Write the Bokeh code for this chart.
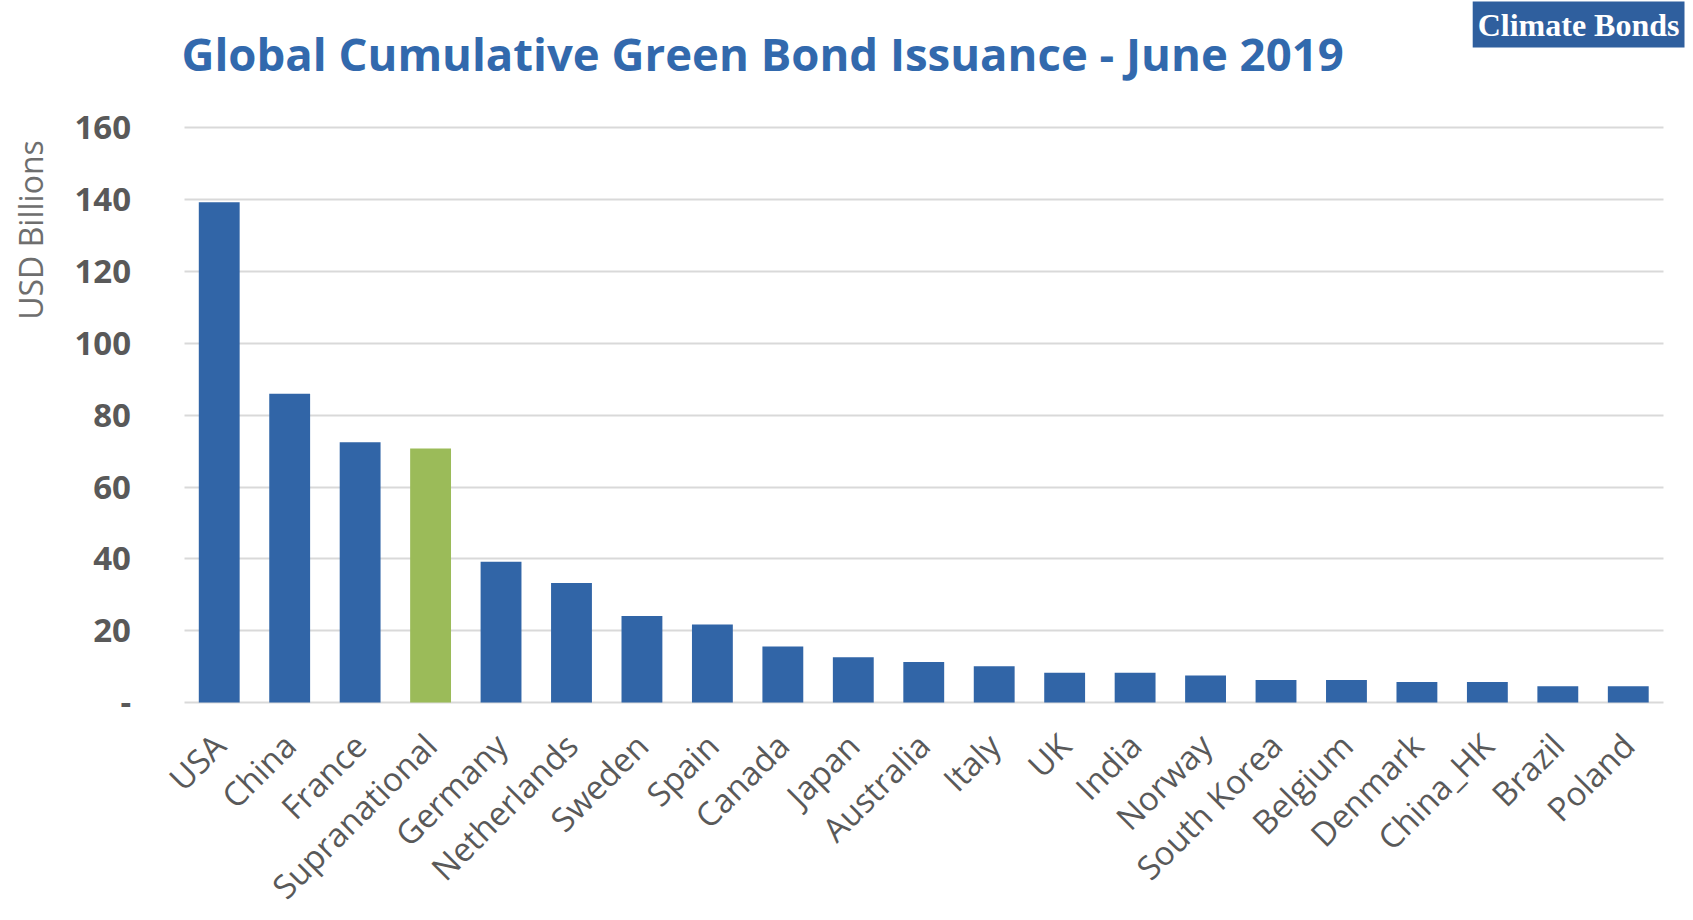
import math
from bokeh.plotting import figure
from bokeh.models import Range1d, FixedTicker, Label, ColumnDataSource
from bokeh.embed import file_html
from bokeh.resources import INLINE

# ---- data ----
countries = ["USA", "China", "France", "Supranational", "Germany", "Netherlands",
             "Sweden", "Spain", "Canada", "Japan", "Australia", "Italy", "UK",
             "India", "Norway", "South Korea", "Belgium", "Denmark", "China_HK",
             "Brazil", "Poland"]
issuance = [139.3, 86.0, 72.5, 70.7, 39.2, 33.3, 24.1, 21.7, 15.6, 12.6, 11.3,
            10.1, 8.3, 8.3, 7.5, 6.3, 6.3, 5.7, 5.7, 4.5, 4.5]
highlight = "Supranational"
y_ticks = [0, 20, 40, 60, 80, 100, 120, 140, 160]
y_tick_labels = ["-", "20", "40", "60", "80", "100", "120", "140", "160"]
title_text = "Global Cumulative Green Bond Issuance - June 2019"
logo_text = "Climate Bonds"
y_label = "USD Billions"

BLUE = "#3165A7"
GREEN = "#9BBB59"
GRID = "#D9D9D9"
TEXT = "#595959"
FONT = "Open Sans"

positions = list(range(len(countries)))
colors = [GREEN if c == highlight else BLUE for c in countries]
src = ColumnDataSource(dict(x=positions, top=issuance, color=colors))

# ---- layout geometry (canvas pixels) ----
W, H = 1693, 920
PLOT_L, PLOT_R = 183.5, 1663.0   # horizontal extent of the category area
ZERO_PX, TOP_PX = 702.0, 127.4   # canvas y of 0 and of 160
n = len(countries)
ppx = (PLOT_R - PLOT_L) / n              # px per category
ppu = (ZERO_PX - TOP_PX) / 160.0         # px per USD bn
x_start = -0.5 - PLOT_L / ppx
x_end = x_start + W / ppx
y_top = 160 + TOP_PX / ppu
y_bot = -(H - ZERO_PX) / ppu

def xd(px):  # canvas x -> data x
    return x_start + px / ppx

def yd(py):  # canvas y -> data y
    return y_top - py / ppu

p = figure(width=W, height=H, x_range=Range1d(x_start, x_end),
           y_range=Range1d(y_bot, y_top), output_backend="svg", toolbar_location=None,
           min_border_left=0, min_border_right=0, min_border_top=0,
           min_border_bottom=0)
p.title.visible = False
p.outline_line_color = None
p.background_fill_color = "white"
p.border_fill_color = "white"

p.vbar(x="x", top="top", width=0.58, color="color", source=src, line_color=None)

# y axis pinned at the left edge of the category area
p.yaxis.fixed_location = -0.5
p.yaxis.ticker = FixedTicker(ticks=y_ticks)
p.yaxis.major_label_overrides = {t: l for t, l in zip(y_ticks, y_tick_labels)}
p.yaxis.axis_line_color = None
p.yaxis.major_tick_line_color = None
p.yaxis.minor_tick_line_color = None
p.yaxis.major_label_text_font = FONT
p.yaxis.major_label_text_font_style = "bold"
p.yaxis.major_label_text_font_size = "33px"
p.yaxis.major_label_text_color = TEXT
p.yaxis.major_label_standoff = 47

# x axis pinned at value 0, category names as tick labels
p.xaxis.fixed_location = 0
p.xaxis.ticker = FixedTicker(ticks=positions)
p.xaxis.major_label_overrides = {i: c for i, c in zip(positions, countries)}
p.xaxis.axis_line_color = None
p.xaxis.major_tick_line_color = None
p.xaxis.minor_tick_line_color = None
p.xaxis.major_label_orientation = math.pi / 4
p.xaxis.major_label_text_font = FONT
p.xaxis.major_label_text_font_size = "33px"
p.xaxis.major_label_text_color = TEXT
p.xaxis.major_label_standoff = 31

p.xgrid.grid_line_color = None
p.ygrid.grid_line_color = GRID
p.ygrid.grid_line_width = 2
p.ygrid.cross_bounds = (-0.5, n - 0.5)

# y label
p.add_layout(Label(x=xd(30), y=yd(229.5), text=y_label, angle=math.pi / 2,
                   text_font=FONT, text_font_size="32px", text_color="#6E6E6E",
                   text_align="center", text_baseline="middle"))

# title
p.add_layout(Label(x=-0.5, y=yd(52), x_offset=-2.5, text=title_text,
                   text_font=FONT, text_font_style="bold", text_font_size="45.5px",
                   text_color="#3269AD", text_baseline="alphabetic", text_align="left"))

# logo
p.add_layout(Label(x=xd(1684), y=yd(24), text=logo_text,
                   text_font="Liberation Serif", text_font_style="bold",
                   text_font_size="32px", text_color="white", text_align="right",
                   text_baseline="middle", background_fill_color="#2F5F9E",
                   padding=5))

open("out.html", "w").write(file_html(p, INLINE))
